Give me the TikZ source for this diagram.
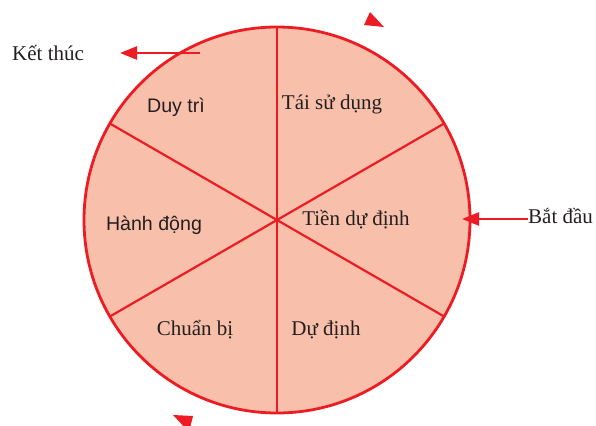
\documentclass[tikz,border=0pt]{standalone}
\usepackage{fontspec}
\setmainfont{Liberation Serif}
\setsansfont{Liberation Sans}
\usetikzlibrary{arrows.meta}
\definecolor{wheelred}{RGB}{237,28,36}
\definecolor{wheelfill}{RGB}{248,192,170}
\definecolor{ink}{RGB}{35,31,32}

\begin{document}
\begin{tikzpicture}[x=1pt,y=-1pt]
\tikzstyle{stage}=[text=ink,inner sep=0pt,anchor=base,font=\fontsize{21}{25}\selectfont]
\tikzstyle{sstage}=[stage,font=\sffamily\fontsize{19.6}{23}\selectfont]
\tikzstyle{spoke}=[draw=wheelred,line width=2.2pt]
\tikzstyle{flow}=[draw=wheelred,line width=2.4pt,-{Triangle[length=17pt,width=13pt]}]
\tikzstyle{head}=[fill=wheelred]

\useasboundingbox (0,0) rectangle (596,425);
\clip (0,0) rectangle (596,425);

\coordinate (c) at (277,220);
\draw[wheelred,fill=wheelfill,line width=2.8pt] (c) circle[radius=193pt];
\foreach \a in {30,90,...,330} {
  \path (c) ++(\a:193) coordinate (p\a);
  \path (c) edge[spoke] (p\a);
}

\node[sstage] (duy) at (176,112) {Duy trì};
\node[stage] (tai) at (332,110) {Tái sử dụng};
\node[sstage] (hanh) at (154,230) {Hành động};
\node[stage] (tien) at (356,225) {Tiền dự định};
\node[stage] (chuan) at (195,335) {Chuẩn bị};
\node[stage] (du) at (326,335) {Dự định};

\node[stage,anchor=base west] (bat) at (528,223) {Bắt đầu};
\node[stage,anchor=base west] (ket) at (12,61) {Kết thúc};

\coordinate (batin) at (462,219);
\coordinate (ketout) at (200,53);
\coordinate (ketin) at (120,53);
\path (bat.west |- batin) edge[flow] (batin);
\path (ketout) edge[flow] (ketin);

\fill[head] (364,25) -- (370,12) -- (384,27) -- cycle;
\fill[head] (173,415) -- (193,416) -- (189,432) -- cycle;

\end{tikzpicture}
\end{document}
